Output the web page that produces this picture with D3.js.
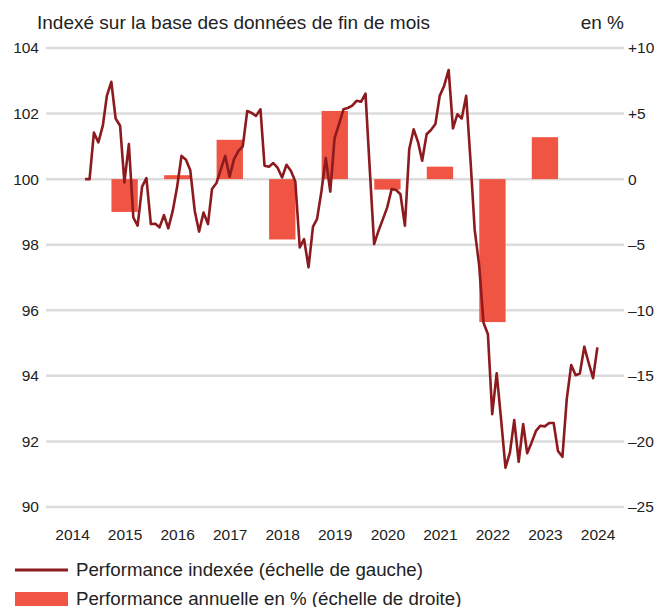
<!DOCTYPE html>
<html>
<head>
<meta charset="utf-8">
<script src="https://cdn.jsdelivr.net/npm/d3@7"></script>
<style>
  body { margin:0; background:#fff; }
  svg text { font-family:"Liberation Sans", Arial, sans-serif; fill:#222; }
</style>
</head>
<body>
<div id="chart"></div>
<script>
// monthly index (end of month), starts Sep 2014
var firstMonth = [2014, 8];
var indexValues = [
  100.0, 100.0, 101.42, 101.12,
  101.63, 102.54, 102.97, 101.85, 101.63, 99.9, 101.07, 98.83, 98.58, 99.77, 100.03, 98.63,
  98.64, 98.53, 98.9, 98.5, 99.03, 99.75, 100.71, 100.59, 100.27, 99.03, 98.4, 98.98,
  98.63, 99.7, 99.88, 100.3, 100.71, 100.07, 100.61, 100.86, 101.0, 102.08, 102.02, 101.93,
  102.13, 100.41, 100.38, 100.49, 100.34, 100.05, 100.44, 100.25, 99.93, 97.92, 98.17, 97.31,
  98.55, 98.78, 99.64, 100.64, 99.62, 101.25, 101.68, 102.13, 102.17, 102.24, 102.39, 102.36,
  102.61, 100.35, 98.02, 98.42, 98.78, 99.14, 99.7, 99.67, 99.54, 98.58, 100.91, 101.52,
  101.12, 100.56, 101.37, 101.5, 101.68, 102.54, 102.85, 103.33, 101.55, 101.98, 101.85, 102.54,
  100.5, 98.46, 97.38, 95.63, 95.27, 92.83, 94.08, 92.65, 91.2, 91.66, 92.65, 91.38,
  92.53, 91.64, 91.97, 92.32, 92.48, 92.46, 92.56, 92.56, 91.71, 91.53, 93.29, 94.33,
  94.02, 94.07, 94.89, 94.4, 93.93, 94.87
];

// annual performance in %
var barYears = [2015, 2016, 2017, 2018, 2019, 2020, 2021, 2022, 2023];
var annualPerf = [-2.5, 0.3, 3.0, -4.6, 5.2, -0.8, 0.95, -10.9, 3.2];

var yearTicks = [2014, 2015, 2016, 2017, 2018, 2019, 2020, 2021, 2022, 2023, 2024];
var leftTicks = [90, 92, 94, 96, 98, 100, 102, 104];
var rightTicks = [-25, -20, -15, -10, -5, 0, 5, 10];

var titleLeft = "Indexé sur la base des données de fin de mois";
var titleRight = "en %";
var legendLine = "Performance indexée (échelle de gauche)";
var legendBar = "Performance annuelle en % (échelle de droite)";

var W = 662, H = 607;
var lineColor = "#8c1a1e", barColor = "#f05443", gridColor = "#dcdcdc";

var svg = d3.select("#chart").append("svg")
  .attr("width", W).attr("height", H);

var x = d3.scaleTime()
  .domain([new Date(2014, 0, 1), new Date(2025, 0, 1)])
  .range([46, 624]);
var yL = d3.scaleLinear().domain([90, 104]).range([507, 48]);
var yR = d3.scaleLinear().domain([-25, 10]).range([507, 48]);

// grid
svg.append("g").selectAll("line")
  .data(leftTicks)
  .enter().append("line")
  .attr("x1", x.range()[0]).attr("x2", x.range()[1])
  .attr("y1", function(d){ return yL(d); })
  .attr("y2", function(d){ return yL(d); })
  .attr("stroke", gridColor).attr("stroke-width", 2.5);

// left axis
var leftAxis = svg.append("g")
  .attr("transform", "translate(39,0)")
  .call(d3.axisLeft(yL).tickValues(leftTicks).tickSize(0).tickPadding(0));
leftAxis.select(".domain").remove();
leftAxis.selectAll("text").style("font-size", "15.5px").attr("fill", "#222");

// right axis
var fmtR = function(d){ return d > 0 ? "+" + d : (d < 0 ? "\u2013" + Math.abs(d) : "0"); };
var rightAxis = svg.append("g")
  .attr("transform", "translate(628,0)")
  .call(d3.axisRight(yR).tickValues(rightTicks).tickFormat(fmtR).tickSize(0).tickPadding(0));
rightAxis.select(".domain").remove();
rightAxis.selectAll("text").style("font-size", "15.5px").attr("fill", "#222");

// bottom axis, labels at mid-year
var bottomAxis = svg.append("g")
  .attr("transform", "translate(0,529)")
  .call(d3.axisBottom(x)
    .tickValues(yearTicks.map(function(y){ return new Date(y, 6, 1); }))
    .tickFormat(d3.timeFormat("%Y")).tickSize(0).tickPadding(0));
bottomAxis.select(".domain").remove();
bottomAxis.selectAll("text").style("font-size", "15.5px").attr("fill", "#222");

// bars
svg.append("g").selectAll("rect")
  .data(barYears)
  .enter().append("rect")
  .attr("x", function(d){ return x(new Date(d, 3, 1)); })
  .attr("width", function(d){ return x(new Date(d, 9, 1)) - x(new Date(d, 3, 1)); })
  .attr("y", function(d, i){ return yR(Math.max(0, annualPerf[i])); })
  .attr("height", function(d, i){ return Math.abs(yR(annualPerf[i]) - yR(0)); })
  .attr("fill", barColor);

// line
var points = indexValues.map(function(v, i){
  return { date: new Date(firstMonth[0], firstMonth[1] + i + 1, 0), value: v };
});
var lineFunction = d3.line()
  .x(function(d){ return x(d.date); })
  .y(function(d){ return yL(d.value); });
svg.append("path")
  .attr("d", lineFunction(points))
  .attr("fill", "none")
  .attr("stroke", lineColor)
  .attr("stroke-width", 2.6)
  .attr("stroke-linejoin", "round");

// titles
svg.append("text").attr("x", 37).attr("y", 29)
  .style("font-size", "19px").text(titleLeft);
svg.append("text").attr("x", 624).attr("y", 29)
  .attr("text-anchor", "end").style("font-size", "19px").text(titleRight);

// legend
svg.append("line")
  .attr("x1", 15).attr("x2", 68).attr("y1", 570).attr("y2", 570)
  .attr("stroke", lineColor).attr("stroke-width", 3);
svg.append("text").attr("x", 76).attr("y", 576)
  .style("font-size", "18.7px").text(legendLine);
svg.append("rect")
  .attr("x", 15).attr("y", 592).attr("width", 53).attr("height", 14)
  .attr("fill", barColor);
svg.append("text").attr("x", 76).attr("y", 605)
  .style("font-size", "18.7px").text(legendBar);
</script>
</body>
</html>
